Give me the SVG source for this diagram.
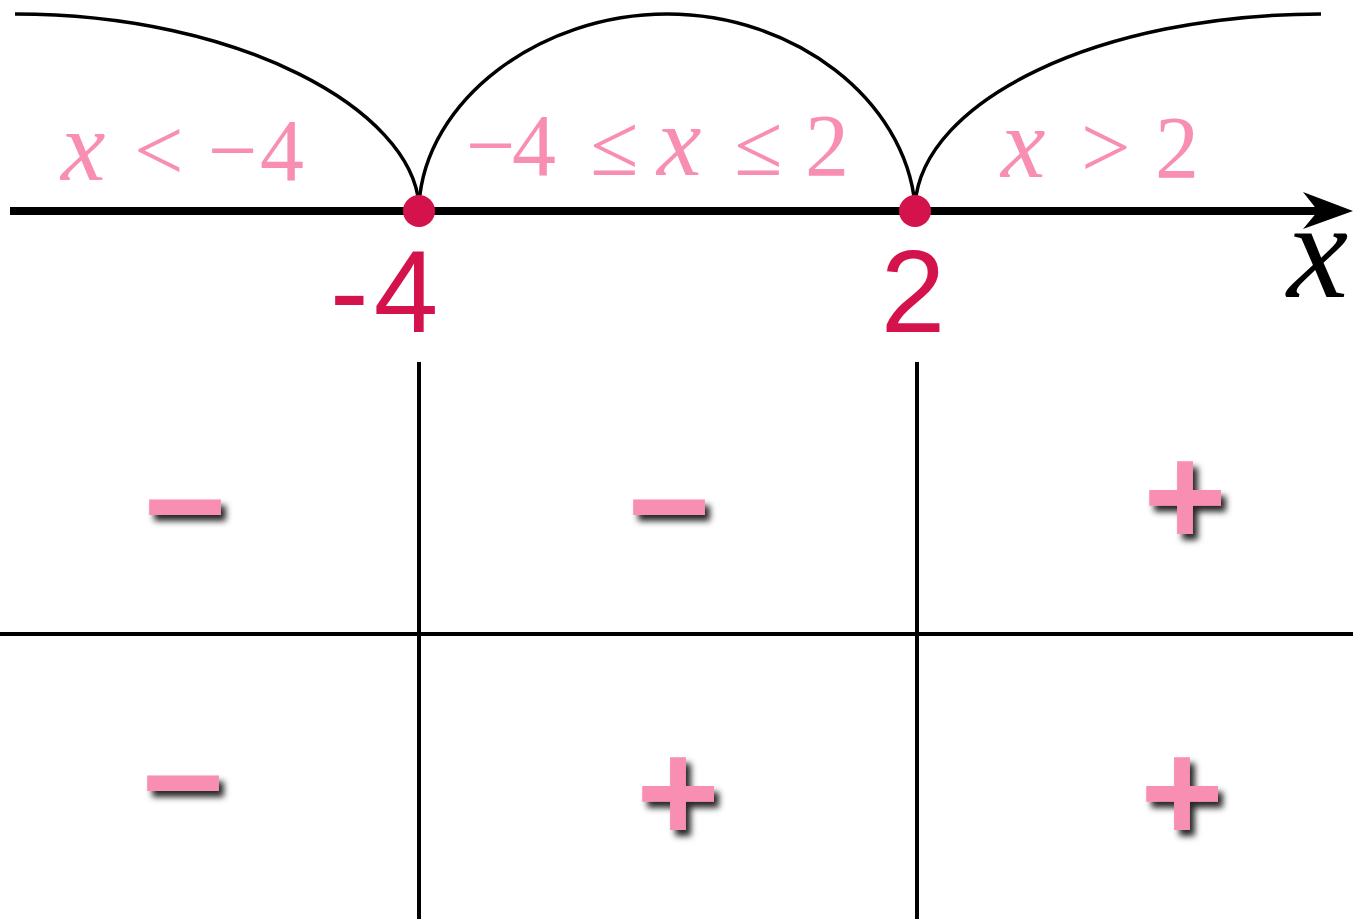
<svg xmlns="http://www.w3.org/2000/svg" width="1353" height="919" viewBox="0 0 1353 919">
<style>
.arc{fill:none;stroke:#000;stroke-width:3.5}
.grid{stroke:#000;stroke-width:4}
.lbl{font-family:"Liberation Serif",serif;font-size:88px;fill:#F88FB2}
.it{font-style:italic;font-size:100px}
.pt{font-family:"Liberation Sans",Arial,sans-serif;font-size:116px;fill:#D4124C}
.sign{font-family:"Liberation Sans",Arial,sans-serif;font-weight:bold;font-size:143px;fill:#F88FB2;text-anchor:middle;filter:url(#sh)}
</style>
<defs>
<filter id="sh" x="-30%" y="-30%" width="160%" height="160%">
<feDropShadow dx="5" dy="6" stdDeviation="3" flood-color="#000" flood-opacity="0.85"/>
</filter>
</defs>
<rect width="1353" height="919" fill="#fff"/>
<g id="connectors">
<path class="arc" d="M15,14 C240,14 412,110 419,205"/>
<path class="arc" d="M419,205 C425,100 540,14 667,14 C795,14 905,100 915,205"/>
<path class="arc" d="M915,205 C922,100 1100,14 1321,14"/>
<line x1="10" y1="211" x2="1320" y2="211" stroke="#000" stroke-width="8"/>
<path d="M1303,192 L1353,211 L1303,229 L1318,211 Z" fill="#000"/>
<line class="grid" x1="419" y1="362" x2="419" y2="919"/>
<line class="grid" x1="917" y1="362" x2="917" y2="919"/>
<line class="grid" x1="0" y1="634" x2="1353" y2="634"/>
</g>
<g id="pt-m4"><circle cx="419" cy="211" r="16" fill="#D4124C"/><text class="pt" x="330" y="332">-<tspan dx="5">4</tspan></text></g>
<g id="pt-2"><circle cx="915" cy="211" r="16" fill="#D4124C"/><text class="pt" x="913" y="332" text-anchor="middle">2</text></g>
<g id="axis-label"><text x="1287" y="297" font-family="Liberation Serif,serif" font-style="italic" font-size="138" fill="#000">x</text></g>
<g id="int1"><text class="lbl" y="180"><tspan class="it" x="61">x</tspan><tspan x="134">&lt;</tspan><tspan x="208">−</tspan><tspan x="260">4</tspan></text></g>
<g id="int2"><text class="lbl" y="175"><tspan x="466">−</tspan><tspan x="512">4</tspan><tspan x="590">≤</tspan><tspan class="it" x="657">x</tspan><tspan x="734">≤</tspan><tspan x="805">2</tspan></text></g>
<g id="int3"><text class="lbl" y="177"><tspan class="it" x="1001">x</tspan><tspan x="1081">&gt;</tspan><tspan x="1155">2</tspan></text></g>
<g id="row1">
<text class="sign" x="185" y="555">−</text>
<text class="sign" x="669" y="555">−</text>
<text class="sign" x="1185" y="545">+</text>
</g>
<g id="row2">
<text class="sign" x="183" y="831">−</text>
<text class="sign" x="678" y="841">+</text>
<text class="sign" x="1182" y="841">+</text>
</g>
</svg>
